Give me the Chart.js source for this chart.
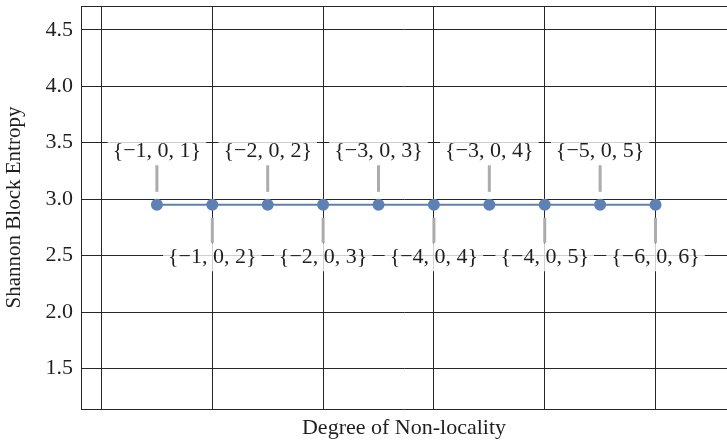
<!DOCTYPE html>
<html>
<head>
<meta charset="utf-8">
<script src="https://cdn.jsdelivr.net/npm/chart.js@4.4.1/dist/chart.umd.min.js"></script>
<style>
  html, body { margin: 0; padding: 0; background: #fff; }
  #wrap { width: 727px; height: 448px; }
</style>
</head>
<body>
<div id="wrap"><canvas id="chart" width="727" height="448"></canvas></div>
<script>
// donnees
const degrees = [1, 2, 3, 4, 5, 6, 7, 8, 9, 10]
const entropy = [2.95, 2.95, 2.95, 2.95, 2.95, 2.95, 2.95, 2.95, 2.95, 2.95]
const callouts = [
    "{−1, 0, 1}", "{−1, 0, 2}", "{−2, 0, 2}", "{−2, 0, 3}", "{−3, 0, 3}",
    "{−4, 0, 4}", "{−3, 0, 4}", "{−4, 0, 5}", "{−5, 0, 5}", "{−6, 0, 6}",
]
const xGridTicks = [0, 2, 4, 6, 8, 10]
const yTicks = [
    1.2, 1.3, 1.4, 1.5, 1.6, 1.7, 1.8, 1.9, 2.0, 2.1, 2.2, 2.3, 2.4, 2.5,
    2.6, 2.7, 2.8, 2.9, 3.0, 3.1, 3.2, 3.3, 3.4, 3.5, 3.6, 3.7, 3.8, 3.9,
    4.0, 4.1, 4.2, 4.3, 4.4, 4.5, 4.6, 4.7,
]

const serif = "'Liberation Serif', 'Times New Roman', serif"
const ink = "#1f1f1f"
const gridColor = "#262626"
const blue = "rgb(94, 129, 181)"

const isMajor = (v) => Math.abs(v * 2 - Math.round(v * 2)) < 1e-6

// cadre du haut, petites graduations internes et etiquettes
const decorations = {
    id: "decorations",
    beforeDatasetsDraw(chart) {
        const { ctx, chartArea } = chart
        const y = chart.scales.y
        ctx.save()
        ctx.strokeStyle = gridColor
        ctx.lineWidth = 1
        ctx.beginPath()
        ctx.moveTo(chartArea.left, chartArea.top + 0.5)
        ctx.lineTo(chartArea.right, chartArea.top + 0.5)
        y.ticks.forEach((t) => {
            if (isMajor(t.value)) return
            const py = Math.round(y.getPixelForValue(t.value)) + 0.5
            ctx.moveTo(chartArea.left, py)
            ctx.lineTo(chartArea.left + 6, py)
        })
        ctx.stroke()
        ctx.restore()
    },
    afterDatasetsDraw(chart) {
        const { ctx } = chart
        const meta = chart.getDatasetMeta(0)
        ctx.save()
        ctx.font = "22px " + serif
        ctx.textAlign = "center"
        ctx.textBaseline = "middle"
        meta.data.forEach((pt, i) => {
            const up = i % 2 === 0
            const dir = up ? -1 : 1
            ctx.strokeStyle = "rgb(172, 172, 172)"
            ctx.lineWidth = 3
            ctx.beginPath()
            ctx.moveTo(pt.x, pt.y + dir * 13)
            ctx.lineTo(pt.x, pt.y + dir * (up ? 40 : 38))
            ctx.stroke()

            const cy = pt.y + dir * (up ? 53.5 : 52.5)
            const w = ctx.measureText(callouts[i]).width
            ctx.fillStyle = "rgba(255, 255, 255, 0.78)"
            ctx.fillRect(pt.x - w / 2 - 5, cy - 14, w + 10, 28)
            ctx.fillStyle = ink
            ctx.fillText(callouts[i], pt.x, cy)
        })
        ctx.restore()
    },
}

new Chart(document.getElementById("chart"), {
    type: "scatter",
    data: {
        datasets: [{
            data: degrees.map((d, i) => ({ x: d, y: entropy[i] })),
            showLine: true,
            borderColor: blue,
            borderWidth: 2,
            backgroundColor: blue,
            pointBackgroundColor: blue,
            pointBorderWidth: 0,
            pointRadius: 6,
        }],
    },
    options: {
        responsive: false,
        animation: false,
        layout: {
            autoPadding: false,
            padding: { top: 6, right: 0, bottom: 0, left: 0 },
        },
        plugins: {
            legend: { display: false },
            tooltip: { enabled: false },
        },
        scales: {
            x: {
                type: "linear",
                min: -0.37,
                max: 11.29,
                afterBuildTicks: (scale) => {
                    scale.ticks = xGridTicks.map((v) => ({ value: v }))
                },
                afterFit: (scale) => {
                    scale.height = 39
                    scale.paddingLeft = 0
                    scale.paddingRight = 0
                },
                ticks: { display: false },
                grid: { color: gridColor, drawTicks: false },
                border: { color: gridColor },
                title: {
                    display: true,
                    text: "Degree of Non-locality",
                    color: ink,
                    font: { family: serif, size: 22 },
                    padding: { top: 0, bottom: 7 },
                },
            },
            y: {
                min: 1.143,
                max: 4.71,
                afterBuildTicks: (scale) => {
                    scale.ticks = yTicks.map((v) => ({ value: v }))
                },
                afterFit: (scale) => {
                    scale.width = 81
                    scale.paddingTop = 0
                    scale.paddingBottom = 0
                },
                ticks: {
                    autoSkip: false,
                    padding: 8,
                    color: ink,
                    font: { family: serif, size: 22 },
                    callback: (v) => (isMajor(v) ? v.toFixed(1) : null),
                },
                grid: { color: gridColor, drawTicks: false },
                border: { color: gridColor },
                title: {
                    display: true,
                    text: "Shannon Block Entropy",
                    color: ink,
                    font: { family: serif, size: 21 },
                    padding: { top: 2, bottom: 0 },
                },
            },
        },
    },
    plugins: [decorations],
})
</script>
</body>
</html>
